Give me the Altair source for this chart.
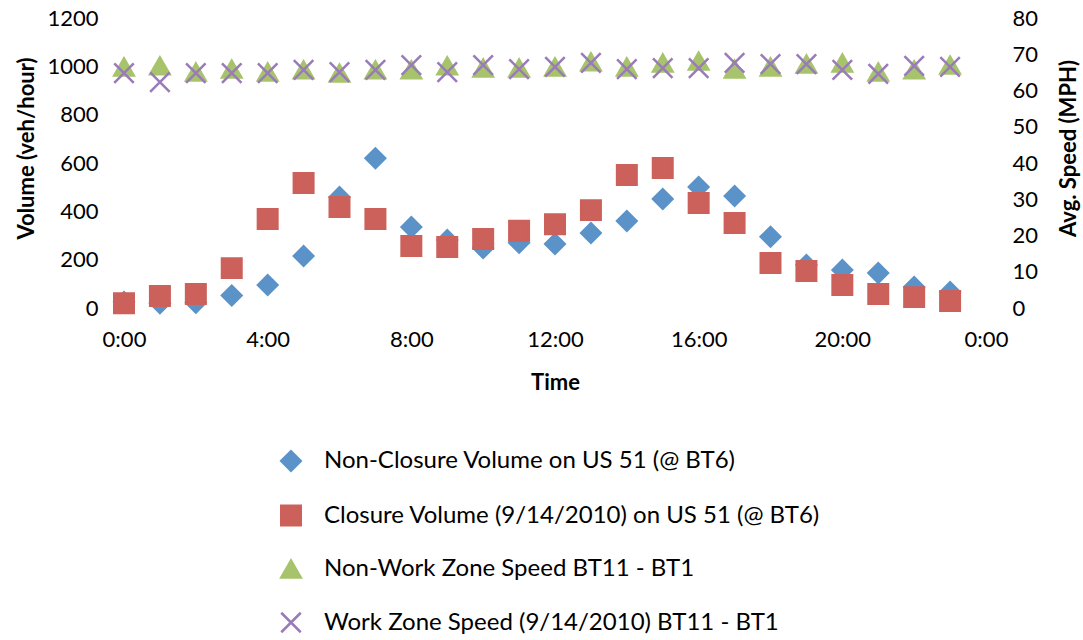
import altair as alt
import pandas as pd

hours = list(range(24))
series_names = [
    "Non-Closure Volume on US 51 (@ BT6)",
    "Closure Volume (9/14/2010) on US 51 (@ BT6)",
    "Non-Work Zone Speed BT11 - BT1",
    "Work Zone Speed (9/14/2010) BT11 - BT1",
]
non_closure_volume = [25, 20, 22, 52, 95, 215, 459, 620, 335, 281, 248, 270,
                      265, 310, 360, 451, 501, 463, 295, 178, 157, 145, 87, 66]
closure_volume = [20, 50, 58, 165, 368, 517, 418, 368, 257, 252, 286, 320,
                  347, 405, 550, 579, 434, 352, 186, 153, 95, 58, 45, 29]
non_work_speed = [66.5, 66.8, 65.1, 65.9, 65.1, 65.7, 64.8, 65.7, 65.7, 66.8, 66.2, 66.2,
                  66.5, 67.9, 66.5, 67.6, 68.1, 65.9, 66.5, 67.3, 67.6, 65.1, 65.7, 67.0]
work_speed = [64.8, 62.3, 64.8, 64.8, 64.8, 65.7, 65.1, 65.7, 67.0, 65.1, 67.0, 65.9,
              66.5, 67.6, 65.9, 66.2, 66.2, 67.6, 67.3, 67.3, 65.7, 64.6, 66.8, 66.5]

colors_fill = ["#5B93C9", "#CC605B", "#A7C36B", "transparent"]
colors_stroke = ["#5B93C9", "#CC605B", "#A7C36B", "#9A7BB9"]
x_path = "M-1,-1L1,1M1,-1L-1,1"
shapes = ["diamond", "square", "triangle-up", x_path]

rows = []
for name, vals, grp in [
    (series_names[0], non_closure_volume, "vol"),
    (series_names[1], closure_volume, "vol"),
    (series_names[2], non_work_speed, "spd"),
    (series_names[3], work_speed, "spd"),
]:
    for h, v in zip(hours, vals):
        rows.append({"hour": h, "value": v, "series": name, "group": grp})
df = pd.DataFrame(rows)

legend = alt.Legend(
    title=None, orient="none", legendX=155, legendY=431, direction="vertical",
    rowPadding=24.5, labelFontSize=24, labelFont="Lato", symbolSize=380,
    symbolStrokeWidth=2.5, labelOffset=21, labelLimit=700, labelColor="black",
)

enc_common = dict(
    x=alt.X("hour:Q", scale=alt.Scale(domain=[0, 24], nice=False),
            axis=alt.Axis(values=list(range(0, 25, 4)),
                          labelExpr="(datum.value % 24) + ':00'", labelFlush=False,
                          title="Time", labelPadding=21, titlePadding=22)),
    fill=alt.Fill("series:N", scale=alt.Scale(domain=series_names, range=colors_fill), legend=legend),
    stroke=alt.Stroke("series:N", scale=alt.Scale(domain=series_names, range=colors_stroke), legend=legend),
    shape=alt.Shape("series:N", scale=alt.Scale(domain=series_names, range=shapes), legend=legend),
    order=alt.Order("series_order:Q"),
)

base = alt.Chart(df).transform_calculate(
    series_order="indexof(" + str(series_names) + ", datum.series)"
)

vol = base.transform_filter(alt.datum.group == "vol").mark_point(
    size=380, strokeWidth=2.5, opacity=1
).encode(
    y=alt.Y("value:Q", scale=alt.Scale(domain=[0, 1200], nice=False),
            axis=alt.Axis(values=list(range(0, 1201, 200)), title="Volume (veh/hour)",
                          format="d", orient="left", labelPadding=26, titleX=-98, titleY=130,
                          titleAngle=270, titleAlign="center", titleBaseline="middle")),
    **enc_common,
)

spd = base.transform_filter(alt.datum.group == "spd").mark_point(
    size=380, strokeWidth=2.5, opacity=1
).encode(
    y=alt.Y("value:Q", scale=alt.Scale(domain=[0, 80], nice=False),
            axis=alt.Axis(values=list(range(0, 81, 10)), title="Avg. Speed (MPH)",
                          format="d", orient="right", labelPadding=26, titleX=82, titleY=130,
                          titleAngle=270, titleAlign="center", titleBaseline="middle")),
    **enc_common,
)

chart = alt.layer(vol, spd).resolve_scale(y="independent").properties(
    width=862, height=290,
    autosize=alt.AutoSizeParams(type="none"),
    padding={"left": 124, "top": 18, "right": 97, "bottom": 332},
).configure_view(stroke=None).configure_axis(
    domain=False, ticks=False, grid=False,
    labelFont="Lato", titleFont="Lato", labelFontSize=22, titleFontSize=22,
    labelColor="black", titleColor="black", titleFontWeight="bold",
)

chart.save("out.html", embed_options={"renderer": "svg", "actions": False})
